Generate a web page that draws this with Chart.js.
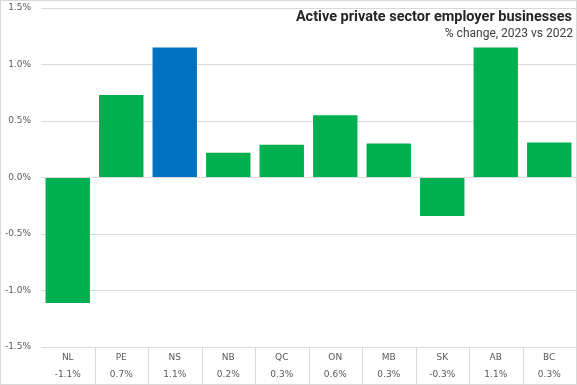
<!DOCTYPE html>
<html>
<head>
<meta charset="utf-8">
<script src="https://cdn.jsdelivr.net/npm/chart.js@4.4.0/dist/chart.umd.min.js"></script>
<style>
  html, body { margin: 0; padding: 0; background: #fff; }
  #chart { display: block; }
</style>
</head>
<body>
<canvas id="chart" width="577" height="385"></canvas>
<script>
// provinces, % change in active private sector employer businesses, 2023 vs 2022
const provinces = ["NL", "PE", "NS", "NB", "QC", "ON", "MB", "SK", "AB", "BC"];
const changePct = [-1.11, 0.73, 1.15, 0.22, 0.29, 0.55, 0.30, -0.34, 1.15, 0.31];
const changeLabels = ["-1.1%", "0.7%", "1.1%", "0.2%", "0.3%", "0.6%", "0.3%", "-0.3%", "1.1%", "0.3%"];
const highlight = "NS";

const titleText = "Active private sector employer businesses";
const subtitleText = "% change, 2023 vs 2022";

const GREEN = "#00B050";
const BLUE = "#0070C0";
const GRID = "#d9d9d9";

// Excel style overlay title, category separators and chart border
const excelBits = {
  id: "excelBits",
  afterDraw(chart) {
    const ctx = chart.ctx;
    const x = chart.scales.x;
    const area = chart.chartArea;
    ctx.save();
    ctx.strokeStyle = GRID;
    ctx.lineWidth = 1;
    // separators between the category cells under the plot
    ctx.beginPath();
    for (let i = 1; i <= provinces.length; i++) {
      const px = i < provinces.length
        ? (x.getPixelForValue(i - 1) + x.getPixelForValue(i)) / 2
        : x.right;
      const sx = Math.round(px) + 0.5;
      ctx.moveTo(sx, area.bottom);
      ctx.lineTo(sx, chart.height);
    }
    ctx.stroke();
    ctx.strokeRect(0.5, 0.5, chart.width - 1, chart.height - 1);

    ctx.textAlign = "right";
    ctx.textBaseline = "alphabetic";
    ctx.fillStyle = "#262626";
    ctx.font = "bold 14.5px Roboto";
    ctx.fillText(titleText, 572, 21);
    ctx.fillStyle = "#404040";
    ctx.font = "12px Roboto";
    ctx.fillText(subtitleText, 573, 37);
    ctx.restore();
  },
};

new Chart(document.getElementById("chart"), {
  type: "bar",
  data: {
    labels: provinces.map((p, i) => [p, changeLabels[i]]),
    datasets: [
      {
        data: changePct,
        backgroundColor: provinces.map((p) => (p === highlight ? BLUE : GREEN)),
        barPercentage: 0.83,
        categoryPercentage: 1,
      },
    ],
  },
  options: {
    responsive: false,
    animation: false,
    layout: { padding: { left: 5, right: 1, top: 8, bottom: 2 } },
    plugins: {
      legend: { display: false },
      tooltip: { enabled: false },
    },
    scales: {
      y: {
        min: -1.5,
        max: 1.5,
        border: { display: false },
        grid: { color: GRID, drawTicks: false },
        afterFit: (s) => {
          s.width = 36;
          s.paddingTop = 0;
          s.paddingBottom = 0;
        },
        ticks: {
          stepSize: 0.5,
          padding: 10,
          color: "#595959",
          font: { family: "DejaVu Sans", size: 9 },
          callback: (v) => v.toFixed(1) + "%",
        },
      },
      x: {
        border: { display: false },
        grid: { display: false, drawTicks: false },
        afterFit: (s) => {
          s.height = 36;
          s.paddingLeft = 0;
          s.paddingRight = 0;
        },
        ticks: {
          padding: 2,
          autoSkip: false,
          maxRotation: 0,
          color: "#595959",
          font: { family: "DejaVu Sans", size: 9, lineHeight: 1.9 },
        },
      },
    },
  },
  plugins: [excelBits],
});
</script>
</body>
</html>
